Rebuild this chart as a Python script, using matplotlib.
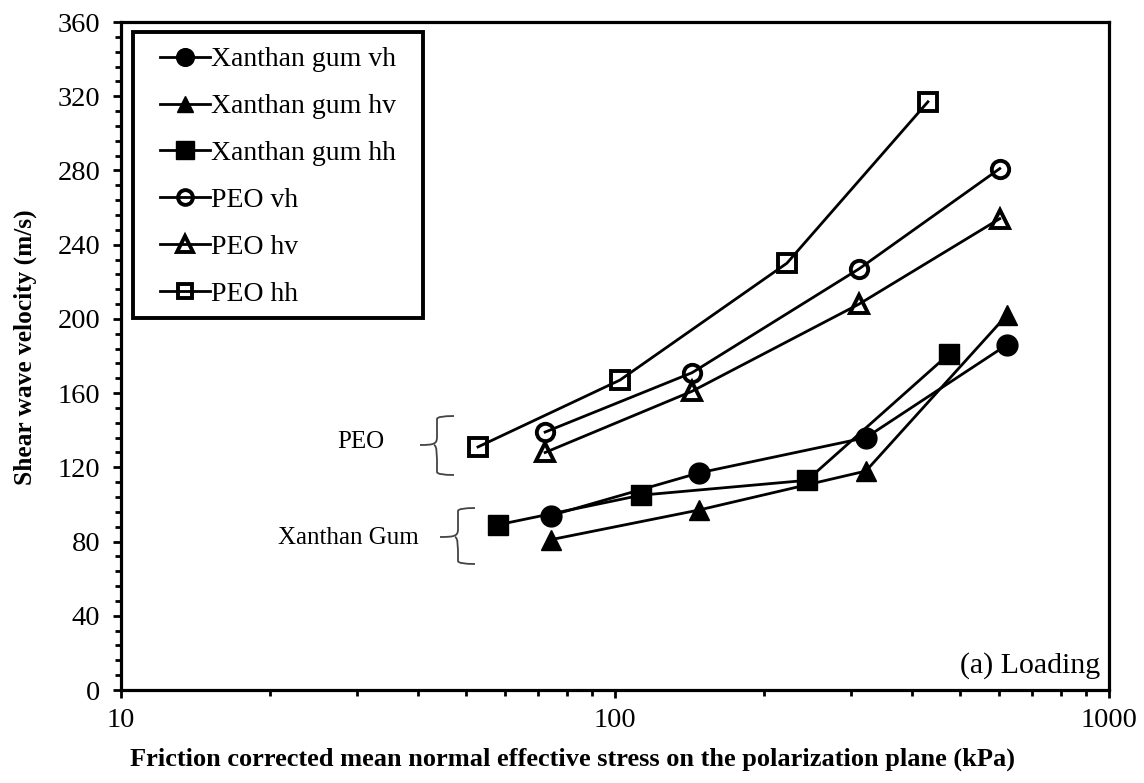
import matplotlib
matplotlib.use("Agg")
import matplotlib.pyplot as plt
from matplotlib.ticker import FixedLocator, NullFormatter, LogLocator
from matplotlib.path import Path
from matplotlib.patches import PathPatch, Rectangle

plt.rcParams['font.family'] = ['Liberation Serif', 'DejaVu Serif']

# Friction corrected mean normal effective stress (kPa) and shear wave velocity (m/s)
xg_vh_p = [74.1, 147.9, 322, 621]
xg_vh_v = [94, 117, 136, 186]
xg_hv_p = [74.1, 147.9, 322, 621]
xg_hv_v = [81, 97, 118, 202]
xg_hh_p = [57.9, 112.9, 244.7, 474]
xg_hh_v = [89, 105, 113, 181]
peo_vh_p = [72.2, 143.2, 312, 601]
peo_vh_v = [139, 171, 227, 281]
peo_hv_p = [72.2, 143.2, 312, 601]
peo_hv_v = [128, 161, 208, 254]
peo_hh_p = [52.8, 102.3, 222.8, 430]
peo_hh_v = [131, 167, 230, 317]

series_labels = ["Xanthan gum vh", "Xanthan gum hv", "Xanthan gum hh",
                 "PEO vh", "PEO hv", "PEO hh"]
y_ticks = [0, 40, 80, 120, 160, 200, 240, 280, 320, 360]
x_ticks = [10, 100, 1000]
x_ticklabels = ["10", "100", "1000"]

W, H = 1144, 783
fig = plt.figure(figsize=(W / 100, H / 100), dpi=100)
ax = fig.add_axes([121 / W, 1 - 690 / H, (1109 - 121) / W, (690 - 22) / H])


def fx(px):
    return px / W


def fy(py):
    return 1 - py / H


lw = 2.0
filled = dict(color='black', lw=lw, markerfacecolor='black', markeredgecolor='black')
hollow = dict(color='black', lw=lw, markerfacecolor='none', markeredgecolor='black',
              markeredgewidth=2.8)

ax.plot(xg_vh_p, xg_vh_v, marker='o', ms=15, label=series_labels[0], **filled)
ax.plot(xg_hv_p, xg_hv_v, marker='^', ms=14, label=series_labels[1], **filled)
ax.plot(xg_hh_p, xg_hh_v, marker='s', ms=14.5, label=series_labels[2], **filled)
ax.plot(peo_vh_p, peo_vh_v, marker='o', ms=12.5, label=series_labels[3], **hollow)
ax.plot(peo_hv_p, peo_hv_v, marker='^', ms=13, label=series_labels[4], **hollow)
ax.plot(peo_hh_p, peo_hh_v, marker='s', ms=12.5, label=series_labels[5], **hollow)

ax.set_xscale('log')
ax.set_xlim(10, 1000)
ax.set_ylim(0, 360)
ax.xaxis.set_major_locator(FixedLocator(x_ticks))
ax.set_xticklabels(x_ticklabels)
ax.xaxis.set_minor_locator(LogLocator(base=10, subs=range(2, 10)))
ax.xaxis.set_minor_formatter(NullFormatter())
ax.yaxis.set_major_locator(FixedLocator(y_ticks))
ax.yaxis.set_minor_locator(FixedLocator(range(0, 361, 8)))

for s in ax.spines.values():
    s.set_linewidth(2.3)
ax.tick_params(which='both', direction='out', width=2.0, labelsize=20.5, top=False, right=False)
ax.tick_params(which='major', length=6)
ax.tick_params(axis='y', which='major', pad=9)
ax.tick_params(axis='x', which='major', pad=7)
ax.tick_params(which='minor', length=4.5)

ax.set_xlabel("Friction corrected mean normal effective stress on the polarization plane (kPa)",
              fontsize=19, fontweight='bold')
ax.xaxis.set_label_coords((572 - 121) / 988, (690 - 748) / 668)
ax.set_ylabel("Shear wave velocity (m/s)", fontsize=18.3, fontweight='bold')
ax.yaxis.set_label_coords((37 - 121) / 988, (690 - 347) / 668)

# Legend entries, with a separately drawn box around them
leg = ax.legend(loc='upper left', bbox_to_anchor=(fx(160), fy(47)),
                bbox_transform=fig.transFigure,
                fontsize=20, frameon=False,
                handlelength=1.8, handletextpad=0.05, labelspacing=0.77,
                borderpad=0, borderaxespad=0, markerscale=0.85)
ax.add_patch(Rectangle((fx(133), fy(318)), fx(423) - fx(133), fy(32) - fy(318),
                       transform=fig.transFigure, fill=False, edgecolor='black',
                       lw=2.8, clip_on=False, zorder=5))

# Group labels with curly braces
fig.text(fx(384), fy(442), "PEO", fontsize=18, ha='right', va='center')
fig.text(fx(419), fy(538), "Xanthan Gum", fontsize=18, ha='right', va='center')


def brace(x_tip, x_mid, x_end, y_top, y_mid, y_bot):
    verts = [(x_end, y_top), (x_mid, y_top), (x_mid, y_top + 3), (x_mid, y_mid - 8),
             (x_mid, y_mid - 1), (x_mid - 3, y_mid), (x_tip, y_mid),
             (x_mid - 3, y_mid), (x_mid, y_mid + 1), (x_mid, y_mid + 8),
             (x_mid, y_bot - 3), (x_mid, y_bot), (x_end, y_bot)]
    codes = [Path.MOVETO, Path.CURVE3, Path.CURVE3, Path.LINETO,
             Path.CURVE4, Path.CURVE4, Path.CURVE4,
             Path.MOVETO, Path.CURVE4, Path.CURVE4,
             Path.LINETO, Path.CURVE3, Path.CURVE3]
    verts = [(fx(a), fy(b)) for a, b in verts]
    fig.patches.append(PathPatch(Path(verts, codes), transform=fig.transFigure,
                                 fill=False, edgecolor='#444444', lw=1.3))


brace(420, 437, 454, 416, 445, 475)
brace(440, 458, 475, 508, 537, 564)

fig.text(fx(1100), fy(666), "(a) Loading", fontsize=21.5, ha='right', va='center')

fig.savefig("out.png", dpi=100)
